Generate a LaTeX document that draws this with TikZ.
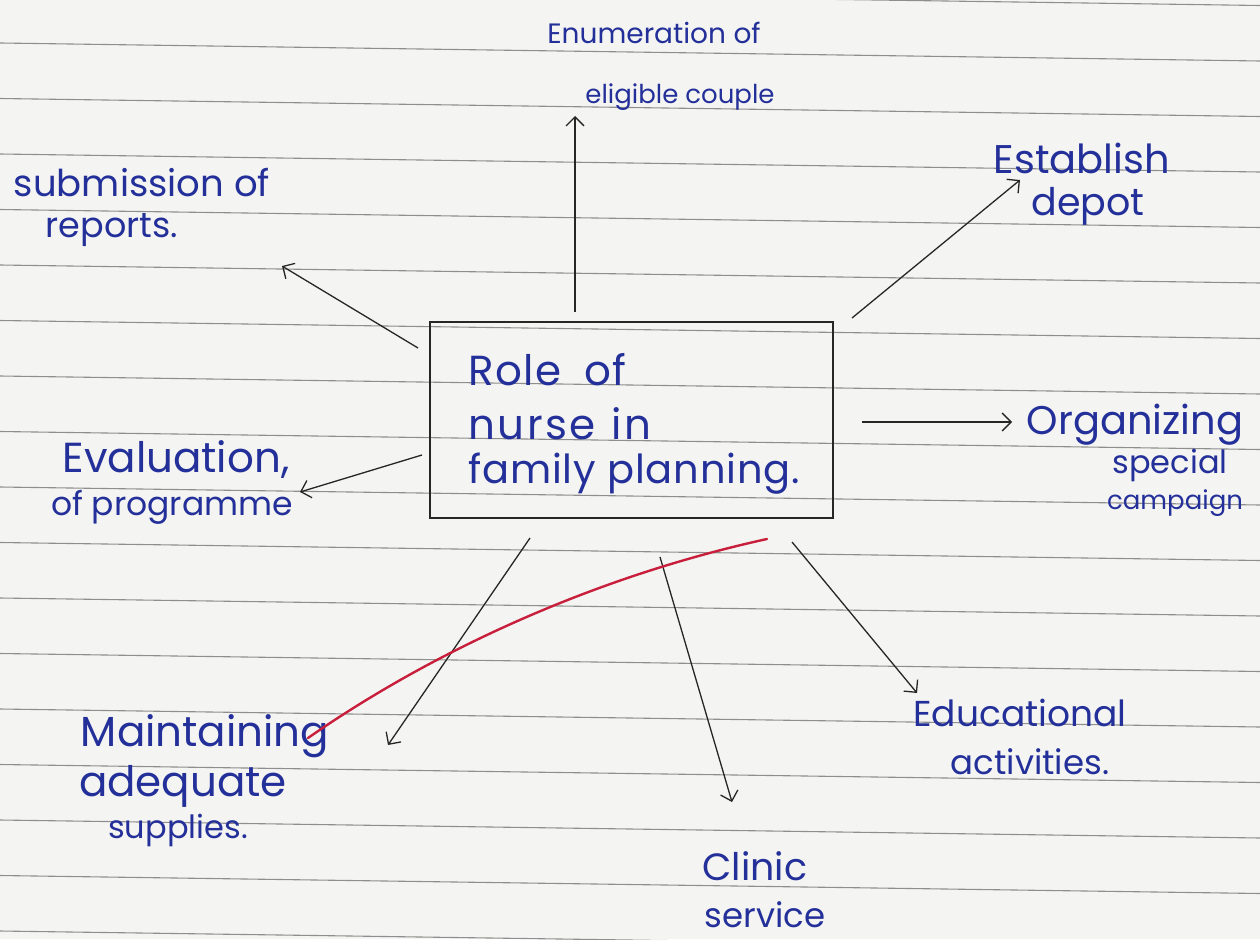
\documentclass[tikz,border=0pt]{standalone}
\usepackage{fontspec}
\setmainfont{Poppins}
\usetikzlibrary{arrows.meta}
\newcommand\hw[2][0]{\fontsize{#2}{#2}\selectfont\addfontfeatures{LetterSpace=#1}}
\definecolor{ink}{HTML}{24309A}
\definecolor{paper}{HTML}{F4F4F2}
\definecolor{rulec}{HTML}{8E8E8E}
\definecolor{redink}{HTML}{C8203C}
\begin{document}
\begin{tikzpicture}[x=1pt,y=-1pt,
 lbl/.style={text=ink, inner sep=0pt, anchor=center},
 arr/.style={draw=black!85, line width=1.3pt, -{Straight Barb[length=9pt,width=18pt]}},
 boxst/.style={draw=black!85, line width=1.8pt, minimum width=403pt, minimum height=196pt, inner sep=0pt},
 ruled/.style={draw=rulec, line width=1.1pt},
 redline/.style={draw=redink, line width=2.4pt, line cap=round}]
\fill[paper] (0,0) rectangle (1260,939);
\useasboundingbox (0,0) rectangle (1260,939);
\foreach \k in {-5,...,12} { \draw[ruled] (0,{265+55.5*\k}) -- (1260,{265+55.5*\k+18}); }

% central box
\node[boxst] (box) at (631.5,420) {};
\node[lbl, anchor=west] (role) at (468,370) {\hw[4]{42}Role\hspace{22pt}of};
\node[lbl, anchor=west] (nurse) at (468,424) {\hw[6]{42}nurse\hspace{16pt}in};
\node[lbl, anchor=west] (family) at (468,474) {\hw[2]{40}family planning.};

% labels
\node[lbl] (enum1) at (654,33) {\hw{28}Enumeration of};
\node[lbl] (enum2) at (680,97) {\hw{26}eligible couple};
\node[lbl] (est1) at (1082,158) {\hw{40}Establish};
\node[lbl] (est2) at (1088,206) {\hw{38}depot};
\node[lbl] (sub1) at (142,183) {\hw{37}submission of};
\node[lbl] (sub2) at (112,230) {\hw{35}reports.};
\node[lbl] (org1) at (1135,425) {\hw{40}Organizing};
\node[lbl] (org2) at (1170,465) {\hw{32}special};
\node[lbl] (org3) at (1175,503) {\hw{26}campaign};
\node[lbl] (eval1) at (176,460) {\hw{42}Evaluation,};
\node[lbl] (eval2) at (172,507) {\hw{33}of programme};
\node[lbl] (main1) at (205,736) {\hw{42}Maintaining};
\node[lbl] (main2) at (183,786) {\hw{42}adequate};
\node[lbl] (main3) at (178,830) {\hw{32}supplies.};
\node[lbl] (cli1) at (755,866) {\hw{38}Clinic};
\node[lbl] (cli2) at (765,915) {\hw{34}service};
\node[lbl] (edu1) at (1020,713) {\hw{36}Educational};
\node[lbl] (edu2) at (1030,762) {\hw{34}activities.};

% connector end points
\coordinate (a1s) at (575,312); \coordinate (a1e) at (575,116);
\coordinate (a2s) at (852,318); \coordinate (a2e) at (1020,180);
\coordinate (a3s) at (418,348); \coordinate (a3e) at (282,266);
\coordinate (a4s) at (862,422); \coordinate (a4e) at (1012,422);
\coordinate (a5s) at (422,455); \coordinate (a5e) at (300,492);
\coordinate (a6s) at (530,538); \coordinate (a6e) at (388,745);
\coordinate (a7s) at (660,557); \coordinate (a7e) at (732,802);
\coordinate (a8s) at (792,542); \coordinate (a8e) at (917,693);
\coordinate (r1) at (308,738); \coordinate (r2) at (767,539);

\draw[arr] (a1s) -- (a1e);
\draw[arr] (a2s) -- (a2e);
\draw[arr] (a3s) -- (a3e);
\draw[arr] (a4s) -- (a4e);
\draw[arr] (a5s) -- (a5e);
\draw[arr] (a6s) -- (a6e);
\draw[arr] (a7s) -- (a7e);
\draw[arr] (a8s) -- (a8e);
\draw[redline] (r1) .. controls (420,660) and (580,580) .. (r2);
\end{tikzpicture}
\end{document}
